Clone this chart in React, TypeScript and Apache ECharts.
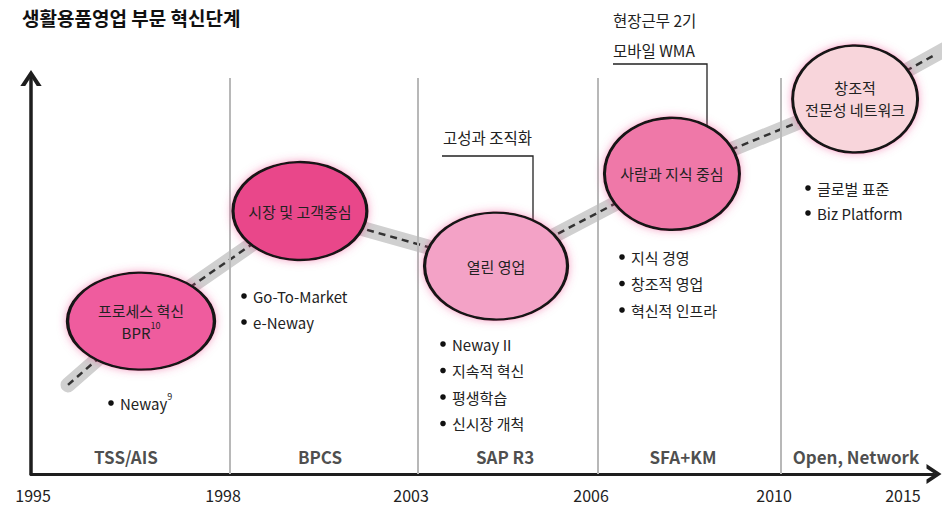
import React, { useEffect, useRef } from "react";
import * as echarts from "echarts";

// ---- data ----
const titleText = "생활용품영업 부문 혁신단계";
const yearLabels = ["1995", "1998", "2003", "2006", "2010", "2015"];
const yearPos = [0.05, 1.102, 2.143, 3.14, 4.153, 4.867];
const dividerPos = [1.102, 2.143, 3.14, 4.153];
const eraNames = ["TSS/AIS", "BPCS", "SAP R3", "SFA+KM", "Open, Network"];
const eraPos = [0.526, 1.6, 2.625, 3.61, 4.568];
const eraLevel = 4.3;

const stageNames = ["프로세스 혁신", "시장 및 고객중심", "열린 영업", "사람과 지식 중심", "창조적\n전문성 네트워크"];
const stageSub = ["BPR", "", "", "", ""];
const stageSup = ["10", "", "", "", ""];
const stageX = [0.609, 1.489, 2.575, 3.549, 4.563];
const stageY = [38.6, 66.4, 52.5, 75.8, 94.7];
const stageColors = ["#EF5C9E", "#E9478A", "#F3A2C6", "#EF78A8", "#F8D5DB"];
const stageSizes = [[147, 97], [134, 98], [143, 107], [135, 112], [125, 107]];
const trendStart = [0.205, 22.5];
const trendEnd = [5.055, 107.1];

const bprNotes = ["Neway"];
const marketNotes = ["Go-To-Market", "e-Neway"];
const openNotes = ["Neway II", "지속적 혁신", "평생학습", "신시장 개척"];
const knowledgeNotes = ["지식 경영", "창조적 영업", "혁신적 인프라"];
const creativeNotes = ["글로벌 표준", "Biz Platform"];
const calloutOpen = ["고성과 조직화"];
const calloutKnowledge = ["현장근무 2기", "모바일 WMA"];

const FONT = "'Noto Sans CJK KR', 'Noto Sans', sans-serif";
const ARROW = "path://M0,18 L12,0 L24,18 L18.5,18 L12,8 L5.5,18 Z";

function bulletList(items: string[], x: number, y0: number, gap: number, sup?: string) {
  const els: any[] = [];
  items.forEach((t, i) => {
    const y = y0 + i * gap;
    els.push({ type: "circle", shape: { cx: x, cy: y, r: 2.8 }, style: { fill: "#111" } });
    els.push({
      type: "text",
      x: x + 9,
      y,
      style: {
        text: sup && i === 0 ? `{t|${t}}{s|${sup}}` : `{t|${t}}`,
        rich: {
          t: { fontSize: 15, fill: "#222", fontFamily: FONT, lineHeight: 22 },
          s: { fontSize: 9, fill: "#222", fontFamily: FONT, verticalAlign: "top", lineHeight: 12 },
        },
        verticalAlign: "middle",
        align: "left",
      },
    });
  });
  return els;
}

export default function App() {
  const ref = useRef<HTMLDivElement>(null);
  useEffect(() => {
    if (!ref.current) return;
    const chart = echarts.init(ref.current, null, { renderer: "svg" });
    const trendData = [trendStart, ...stageX.map((x, i) => [x, stageY[i]]), trendEnd];

    const graphics: any[] = [
      {
        type: "text",
        x: 22,
        y: 17,
        style: { text: titleText, fontSize: 19, fontWeight: "bold", fill: "#111", fontFamily: FONT, verticalAlign: "middle" },
      },
      ...bulletList(bprNotes, 111, 403, 26, "9"),
      ...bulletList(marketNotes, 244, 296, 26),
      ...bulletList(openNotes, 443, 344, 26.5),
      ...bulletList(knowledgeNotes, 622, 257, 26.5),
      ...bulletList(creativeNotes, 808, 188, 25),
      {
        type: "text",
        x: 443,
        y: 137,
        style: { text: calloutOpen[0], fontSize: 15.5, fill: "#222", fontFamily: FONT, verticalAlign: "middle" },
      },
      { type: "polyline", shape: { points: [[442, 156], [533, 156], [533, 232]] }, style: { stroke: "#222", lineWidth: 1.3, fill: "none" } },
      {
        type: "text",
        x: 613,
        y: 20,
        style: { text: calloutKnowledge[0], fontSize: 15.5, fill: "#222", fontFamily: FONT, verticalAlign: "middle" },
      },
      {
        type: "text",
        x: 613,
        y: 50,
        style: { text: calloutKnowledge[1], fontSize: 15.5, fill: "#222", fontFamily: FONT, verticalAlign: "middle" },
      },
      { type: "polyline", shape: { points: [[613, 64], [707, 64], [707, 138]] }, style: { stroke: "#222", lineWidth: 1.3, fill: "none" } },
    ];

    chart.setOption({
      animation: false,
      backgroundColor: "#ffffff",
      textStyle: { fontFamily: FONT },
      grid: { left: 31, right: 10, top: 78, bottom: 32 },
      xAxis: {
        type: "value",
        min: 0,
        max: 5,
        axisLine: {
          show: true,
          lineStyle: { color: "#1e1e1e", width: 3 },
          symbol: ["none", ARROW],
          symbolSize: [26, 15],
        },
        axisTick: { show: false },
        splitLine: { show: false },
        axisLabel: {
          customValues: yearPos,
          formatter: (v: number) => {
            let best = 0;
            yearPos.forEach((p, i) => {
              if (Math.abs(p - v) < Math.abs(yearPos[best] - v)) best = i;
            });
            return yearLabels[best];
          },
          fontSize: 16,
          color: "#222",
          margin: 13,
          padding: [0, 14, 0, 0],
          fontFamily: FONT,
        },
      },
      yAxis: {
        type: "value",
        min: 0,
        max: 100,
        axisLine: {
          show: true,
          lineStyle: { color: "#1e1e1e", width: 3.5 },
          symbol: ["none", ARROW],
          symbolSize: [26, 16],
        },
        axisTick: { show: false },
        axisLabel: { show: false },
        splitLine: { show: false },
      },
      graphic: graphics,
      series: [
        {
          type: "line",
          data: [],
          silent: true,
          markLine: {
            silent: true,
            symbol: ["none", "none"],
            label: { show: false },
            lineStyle: { color: "#b8b8b8", width: 2, type: "solid" },
            data: dividerPos.map((x) => ({ xAxis: x })),
          },
          z: 1,
        },
        {
          type: "line",
          data: trendData,
          symbol: "none",
          clip: false,
          silent: true,
          lineStyle: { color: "#d0d0d0", width: 15, cap: "round" },
          z: 2,
        },
        {
          type: "line",
          data: trendData,
          symbol: "none",
          clip: false,
          silent: true,
          lineStyle: { color: "#333", width: 2.5, type: [7, 5] },
          z: 3,
        },
        {
          type: "scatter",
          z: 5,
          silent: true,
          symbol: "circle",
          data: stageX.map((x, i) => ({
            value: [x, stageY[i]],
            name: stageNames[i],
            symbolSize: stageSizes[i],
            itemStyle: {
              color: stageColors[i],
              borderColor: "#151515",
              borderWidth: 2.8,
              opacity: 1,
              shadowBlur: 9,
              shadowColor: "rgba(236, 70, 140, 0.5)",
            },
            label: {
              show: true,
              position: "inside",
              formatter: stageSub[i]
                ? `{t|${stageNames[i]}}\n{t|${stageSub[i]}}{s|${stageSup[i]}}`
                : stageNames[i].split("\n").map((s) => `{t|${s}}`).join("\n"),
              rich: {
                t: { fontSize: 15, color: "#222", lineHeight: 22, fontFamily: FONT },
                s: { fontSize: 9, color: "#222", lineHeight: 12, verticalAlign: "top", fontFamily: FONT },
              },
            },
          })),
        },
        {
          type: "scatter",
          z: 4,
          silent: true,
          symbolSize: 0,
          data: eraNames.map((n, i) => ({ value: [eraPos[i], eraLevel], name: n })),
          label: {
            show: true,
            position: "inside",
            formatter: "{b}",
            fontSize: 17,
            fontWeight: "bold",
            color: "#1e1e1e",
            fontFamily: FONT,
          },
        },
      ],
    });
    return () => chart.dispose();
  }, []);
  return (
    <div
      ref={ref}
      style={{ position: "fixed", left: 0, top: 0, width: 944, height: 506, background: "#fff" }}
    />
  );
}
